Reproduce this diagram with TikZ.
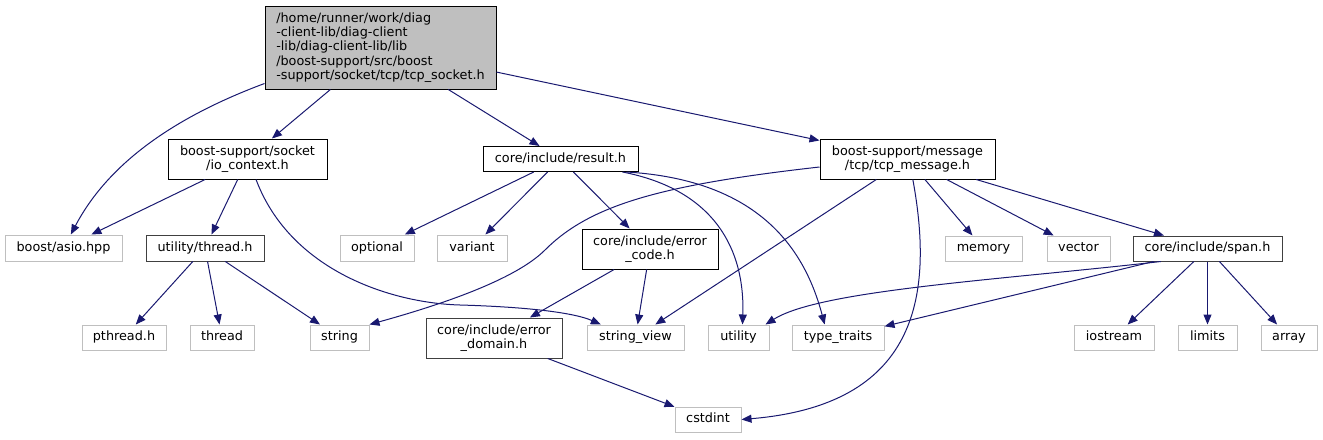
\documentclass[tikz,border=0pt]{standalone}
\usepackage{fontspec}
\setmainfont{DejaVu Sans}
\usepackage{xcolor}
\usetikzlibrary{arrows.meta}
\definecolor{edgeblue}{HTML}{191970}
\definecolor{extgray}{HTML}{BFBFBF}
\definecolor{rootgray}{HTML}{BFBFBF}
\definecolor{darkbox}{HTML}{404040}
\tikzset{
  dep/.style={draw=edgeblue,line width=0.75pt,-{Triangle[length=7.5pt,width=6pt]}},
  hdr/.style={draw=black,line width=0.75pt,fill=white,inner sep=0pt,align=center},
  hdrgray/.style={hdr,draw=darkbox},
  ext/.style={hdr,draw=extgray,oneline},
  oneline/.style={text height=7.3pt,text depth=2.3pt},
  rootbox/.style={hdr,fill=rootgray,align=left},
  sz/.style 2 args={minimum width=#1*0.75pt,minimum height=#2*0.75pt}
}
\begin{document}
\begin{tikzpicture}[x=0.75pt,y=-0.75pt,font=\fontsize{9.6}{10.8}\selectfont]
\useasboundingbox (0,0) rectangle (1323,439);
\node[rootbox,sz={231}{83}] (root) at (380.5,47.5) {/home/runner/work/diag\\-client-lib/diag-client\\-lib/diag-client-lib/lib\\/boost-support/src/boost\\-support/socket/tcp/tcp\_socket.h};
%%%
\node[hdr,sz={159}{40}] (io) at (247.5,159) {boost-support/socket\\/io\_context.h};
\node[hdr,oneline,sz={155}{25}] (result) at (560.5,159) {core/include/result.h};
\node[hdr,sz={175}{40}] (tcpmsg) at (907.5,159) {boost-support/message\\/tcp/tcp\_message.h};
%%%
\node[ext,sz={117}{26}] (asio) at (63.5,248) {boost/asio.hpp};
\node[hdrgray,oneline,sz={118}{26}] (thread) at (205,248) {utility/thread.h};
\node[ext,sz={74}{26}] (optional) at (377,248) {optional};
\node[ext,sz={70}{26}] (variant) at (472,248) {variant};
\node[hdr,sz={136}{40}] (errcode) at (650,249) {core/include/error\\\_code.h};
\node[ext,sz={77}{25}] (memory) at (983.5,248.5) {memory};
\node[ext,sz={63}{25}] (vector) at (1078.5,248.5) {vector};
\node[hdrgray,oneline,sz={149}{25}] (span) at (1207.5,248.5) {core/include/span.h};
%%%
\node[ext,sz={84}{25}] (pthread) at (124,337.5) {pthread.h};
\node[ext,sz={64}{25}] (thrd) at (222,337.5) {thread};
\node[ext,sz={59}{25}] (string) at (339.5,337.5) {string};
\node[hdrgray,sz={136}{40}] (errdom) at (494,338) {core/include/error\\\_domain.h};
\node[ext,sz={97}{25}] (sview) at (635.5,337.5) {string\_view};
\node[ext,sz={61}{25}] (utility) at (738.5,337.5) {utility};
\node[ext,sz={92}{25}] (ttraits) at (838,337.5) {type\_traits};
\node[ext,sz={80}{25}] (iostream) at (1114,337.5) {iostream};
\node[ext,sz={59}{25}] (limits) at (1207.5,337.5) {limits};
\node[ext,sz={56}{25}] (array) at (1289,337.5) {array};
\node[ext,sz={66}{25}] (cstdint) at (708,419.5) {cstdint};
%%%
\draw[dep] ([yshift=4.5pt]root.south west) .. controls (180,115) and (110,160) .. ([xshift=5.5pt]asio.north);
\draw[dep] (root) -- (io);
\draw[dep] (root) -- (result);
\draw[dep] (root) -- (tcpmsg);
\draw[dep] (io) -- (asio);
\draw[dep] (io) -- (thread);
\draw[dep] ([xshift=6.4pt]io.south) .. controls (290,270) and (390,303) .. (460,305) .. controls (530,307) and (575,313) .. ([xshift=-26pt]sview.north);
\draw[dep] (result) -- (optional);
\draw[dep] (result) -- (variant);
\draw[dep] (result) -- (errcode);
\draw[dep] ([xshift=-12pt]result.south east) .. controls (715,190) and (745,250) .. ([xshift=3pt]utility.north);
\draw[dep] ([xshift=-9pt]result.south east) .. controls (760,180) and (805,250) .. ([xshift=-10pt]ttraits.north);
\draw[dep] ([yshift=-6pt]tcpmsg.west) .. controls (660,185) and (590,205) .. (545,250) .. controls (515,280) and (440,305) .. (string.north east);
\draw[dep] (tcpmsg) -- (sview);
\draw[dep] ([xshift=4pt]tcpmsg.south) .. controls (935,300) and (915,405) .. (cstdint.east);
\draw[dep] (tcpmsg) -- (memory);
\draw[dep] (tcpmsg) -- (vector);
\draw[dep] (tcpmsg) -- (span);
\draw[dep] ([xshift=-35pt]span.south) .. controls (1000,280) and (820,290) .. ([xshift=-3pt]utility.north east);
\draw[dep] (span) -- (ttraits);
\draw[dep] (span) -- (iostream);
\draw[dep] (span) -- (limits);
\draw[dep] (span) -- (array);
\draw[dep] (thread) -- (pthread);
\draw[dep] (thread) -- (thrd);
\draw[dep] (thread) -- (string);
\draw[dep] (errcode) -- (sview);
\draw[dep] (errcode) -- (errdom);
\draw[dep] (errdom) -- (cstdint);
\end{tikzpicture}
\end{document}
